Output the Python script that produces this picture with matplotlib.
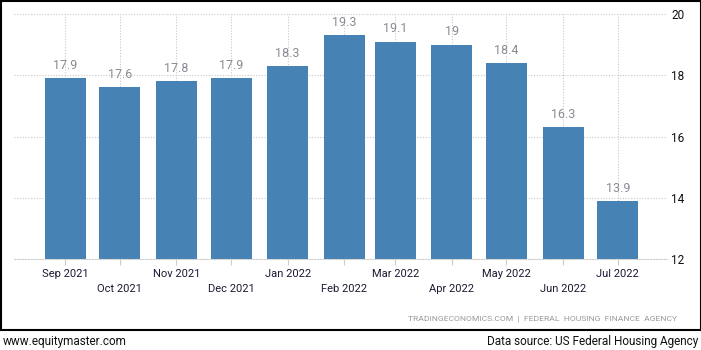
import numpy as np
import pandas as pd
import matplotlib
matplotlib.use("Agg")
import matplotlib.pyplot as plt
import matplotlib.dates as mdates
from matplotlib.patches import Rectangle

plt.rcParams['font.family'] = ['Roboto', 'DejaVu Sans']

months = ["2021-09", "2021-10", "2021-11", "2021-12", "2022-01", "2022-02",
          "2022-03", "2022-04", "2022-05", "2022-06", "2022-07"]
values = [17.9, 17.6, 17.8, 17.9, 18.3, 19.3, 19.1, 19.0, 18.4, 16.3, 13.9]
value_labels = ["17.9", "17.6", "17.8", "17.9", "18.3", "19.3", "19.1", "19", "18.4", "16.3", "13.9"]
yticks = [12, 14, 16, 18, 20]

dates = pd.to_datetime(months)
x = mdates.date2num(dates)

fig = plt.figure(figsize=(7.01, 3.5), dpi=100)
ax = fig.add_axes([14 / 701, 1 - 259 / 350, (667 - 14) / 701, 245 / 350])

ax.bar(x, np.array(values) - 12, bottom=12, width=22.5, color="#4682b4", zorder=2)
for xi, v, lab in zip(x, values, value_labels):
    ax.annotate(lab, (xi, v), xytext=(0, 4.5), textcoords="offset points",
                ha="center", va="bottom", fontsize=9, color="#8a8a94", zorder=3)

ax.set_ylim(12, 20)
ax.set_xlim(x[0] - 28, x[-1] + 27)
ax.set_yticks(yticks)
ax.yaxis.tick_right()
ax.tick_params(axis="y", length=0, pad=3, labelsize=8.5, labelcolor="#111111")

ax.set_xticks(x)
labels = [d.strftime("%b %Y") for d in dates]
labels = [lab if i % 2 == 0 else "\n" + lab for i, lab in enumerate(labels)]
ax.set_xticklabels(labels, fontsize=8, color="#1a1a33", linespacing=1.6)
ax.tick_params(axis="x", length=4, color="#cccccc", width=0.8, pad=3)

for s in ["top", "left", "right"]:
    ax.spines[s].set_visible(False)
ax.spines["bottom"].set_color("#cccccc")
ax.spines["bottom"].set_linestyle((0, (1, 1.5)))
ax.spines["bottom"].set_linewidth(0.8)

ax.grid(True, color="#c8c8c8", linestyle=(0, (1, 1.5)), linewidth=0.8, zorder=0)
ax.set_axisbelow(True)

fig.text(677 / 701, 1 - 319 / 350, "TRADINGECONOMICS.COM  |  FEDERAL  HOUSING  FINANCE  AGENCY",
         ha="right", va="center", fontsize=6.1, color="#999999")

fig.patches.append(Rectangle((0.5 / 701, 20 / 350), 700 / 701, 329.5 / 350,
                             transform=fig.transFigure, fill=False,
                             edgecolor="black", linewidth=1.5))

fig.text(3 / 701, 1 - 341 / 350, "www.equitymaster.com", ha="left", va="center",
         fontsize=8.5, color="#111111")
fig.text(698 / 701, 1 - 341 / 350, "Data source: US Federal Housing Agency", ha="right",
         va="center", fontsize=8.5, color="#111111")

fig.savefig("out.png", dpi=100)
